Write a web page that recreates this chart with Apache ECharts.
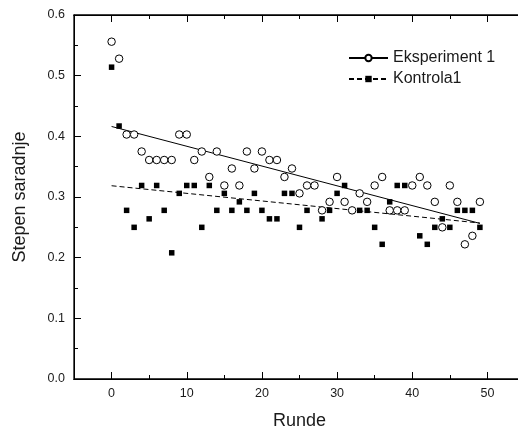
<!DOCTYPE html>
<html>
<head>
<meta charset="utf-8">
<script src="https://cdn.jsdelivr.net/npm/echarts@6/dist/echarts.min.js"></script>
<style>
html,body{margin:0;padding:0;background:#fff;}
#chart{width:518px;height:430px;}
</style>
</head>
<body>
<div id="chart"></div>
<script>
// ---- data ----
var rounds = [0,1,2,3,4,5,6,7,8,9,10,11,12,13,14,15,16,17,18,19,20,21,22,23,24,25,26,27,28,29,30,31,32,33,34,35,36,37,38,39,40,41,42,43,44,45,46,47,48,49];
var eksperiment = [0.556,0.528,0.403,0.403,0.375,0.361,0.361,0.361,0.361,0.403,
  0.403,0.361,0.375,0.333,0.375,0.319,0.347,0.319,0.375,0.347,
  0.375,0.361,0.361,0.333,0.347,0.306,0.319,0.319,0.278,0.292,
  0.333,0.292,0.278,0.306,0.292,0.319,0.333,0.278,0.278,0.278,
  0.319,0.333,0.319,0.292,0.250,0.319,0.292,0.222,0.236,0.292];
var kontrola = [0.514,0.417,0.278,0.250,0.319,0.264,0.319,0.278,0.208,0.306,
  0.319,0.319,0.250,0.319,0.278,0.306,0.278,0.292,0.278,0.306,
  0.278,0.264,0.264,0.306,0.306,0.250,0.278,0.319,0.264,0.278,
  0.306,0.319,0.278,0.278,0.278,0.250,0.222,0.292,0.319,0.319,
  0.319,0.236,0.222,0.250,0.264,0.250,0.278,0.278,0.278,0.250];
var xMajorTicks = [0,10,20,30,40,50];
var xMinorTicks = [5,15,25,35,45];
var seriesNames = ['Eksperiment 1','Kontrola1'];
var xTitle = 'Runde';
var yTitle = 'Stepen saradnje';

// ---- linear fit (drawn from the data) ----
function fit(xs, ys){
  var n = xs.length, sx=0, sy=0, sxx=0, sxy=0;
  for (var i=0;i<n;i++){ sx+=xs[i]; sy+=ys[i]; sxx+=xs[i]*xs[i]; sxy+=xs[i]*ys[i]; }
  var b = (n*sxy - sx*sy)/(n*sxx - sx*sx);
  var a = (sy - b*sx)/n;
  var x0 = xs[0], x1 = xs[n-1];
  return [[x0, a+b*x0],[x1, a+b*x1]];
}
function pairs(xs, ys){ return xs.map(function(x,i){ return [x, ys[i]]; }); }

var FONT = "'Liberation Sans', Arial, Helvetica, sans-serif";
var TXT = '#1a1a1a';
var lineCol = '#000';

function xAxisDef(pos, ticks, len, showLabel, extra){
  var o = {
    type:'value', position:pos, min:-5, max:55, gridIndex:0,
    axisLine:{show:true, onZero:false, lineStyle:{color:lineCol, width:1}},
    axisTick:{show:true, inside:true, length:len, customValues:ticks, lineStyle:{color:lineCol, width:1}},
    axisLabel:{show:showLabel, customValues:ticks, margin:8, fontSize:12.5, color:TXT, fontFamily:FONT},
    splitLine:{show:false}
  };
  if (extra) for (var k in extra) o[k]=extra[k];
  return o;
}
function yAxisDef(pos, showLabel, extra){
  var o = {
    type:'value', position:pos, min:0, max:0.6, interval:0.1, gridIndex:0,
    axisLine:{show:true, onZero:false, lineStyle:{color:lineCol, width:1}},
    axisTick:{show:true, inside:true, length:7, lineStyle:{color:lineCol, width:1}},
    minorTick:{show:true, splitNumber:2, length:4, lineStyle:{color:lineCol, width:1}},
    axisLabel:{show:showLabel, margin:9, fontSize:12.5, color:TXT, fontFamily:FONT,
      formatter:function(v){ return v.toFixed(1); }},
    splitLine:{show:false}, minorSplitLine:{show:false}
  };
  if (extra) for (var k in extra) o[k]=extra[k];
  return o;
}

var chart = echarts.init(document.getElementById('chart'), null, {renderer:'canvas'});
chart.setOption({
  animation:false,
  backgroundColor:'#fff',
  textStyle:{fontFamily:FONT},
  grid:{left:74, right:-7, top:15, bottom:51, containLabel:false, outerBoundsMode:'none',
        show:true, borderColor:'#000', borderWidth:1.3, backgroundColor:'transparent'},
  legend:{
    data:seriesNames, orient:'vertical', left:348, top:50, align:'left', padding:0,
    itemWidth:39, itemHeight:8, itemGap:5,
    textStyle:{fontSize:16, color:TXT, fontFamily:FONT},
    selectedMode:false
  },
  xAxis:[
    xAxisDef('bottom', xMajorTicks, 7, true, {
      name:xTitle, nameLocation:'middle', nameGap:33,
      nameTextStyle:{fontSize:18, color:TXT, fontFamily:FONT}}),
    xAxisDef('bottom', xMinorTicks, 4, false),
    xAxisDef('top', xMajorTicks, 7, false),
    xAxisDef('top', xMinorTicks, 4, false)
  ],
  yAxis:[
    yAxisDef('left', true, {name:yTitle, nameLocation:'middle', nameGap:45,
      nameTextStyle:{fontSize:18, color:TXT, fontFamily:FONT}}),
    yAxisDef('right', false)
  ],
  series:[
    {name:seriesNames[0], type:'line', xAxisIndex:0, yAxisIndex:0, data:fit(rounds, eksperiment),
     showSymbol:false, symbol:'circle', symbolSize:7,
     itemStyle:{color:'#fff', borderColor:'#000', borderWidth:1},
     lineStyle:{color:'#000', width:1, type:'solid'}, z:1, silent:true},
    {name:seriesNames[1], type:'line', xAxisIndex:0, yAxisIndex:0, data:fit(rounds, kontrola),
     showSymbol:false, symbol:'rect', symbolSize:5,
     itemStyle:{color:'#000'},
     lineStyle:{color:'#000', width:1, type:[5,3]}, z:1, silent:true},
    {name:seriesNames[1], type:'scatter', xAxisIndex:0, yAxisIndex:0, data:pairs(rounds, kontrola),
     symbol:'rect', symbolSize:5.5, itemStyle:{color:'#000', opacity:1}, z:2},
    {name:seriesNames[0], type:'scatter', xAxisIndex:0, yAxisIndex:0, data:pairs(rounds, eksperiment),
     symbol:'circle', symbolSize:7.5, itemStyle:{color:'#fff', borderColor:'#000', borderWidth:1, opacity:1}, z:3}
  ]
});
</script>
</body>
</html>
